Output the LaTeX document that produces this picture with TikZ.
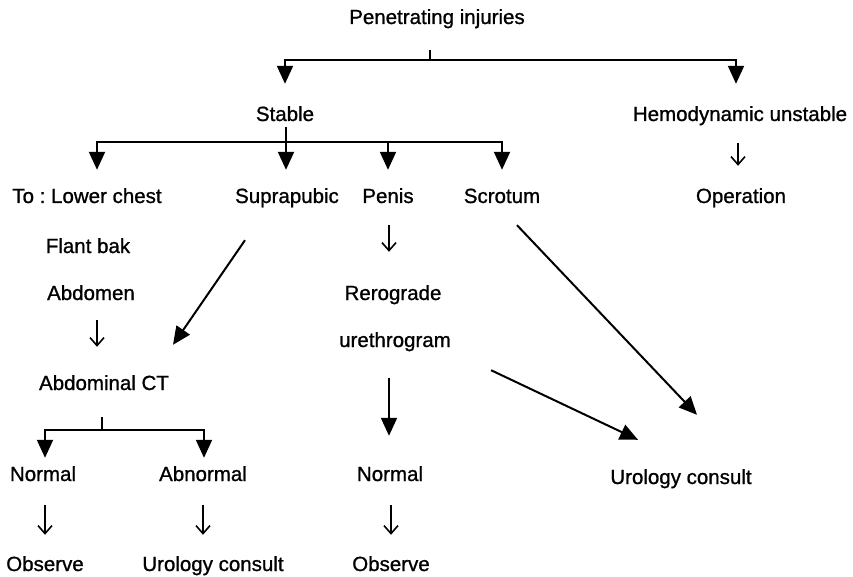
\documentclass[tikz,border=0pt]{standalone}
\usepackage{fontspec}
\setmainfont{Liberation Sans}
\newfontfamily\scanfont{Liberation Sans}[FakeBold=1]
\usetikzlibrary{arrows.meta}
\frenchspacing
\begin{document}
\begin{tikzpicture}[x=1pt,y=-1pt,
  lbl/.style={inner sep=0pt, anchor=base, text height=15pt, text depth=4pt, font=\scanfont\fontsize{20.5}{24}\selectfont},
  ln/.style={line width=2pt},
  arr/.style={line width=2pt, -{Triangle[width=16pt,length=18pt]}},
  tarr/.style={line width=1.6pt, -{Straight Barb[width=14pt,length=8pt,line width=1.6pt]}}]
\useasboundingbox (0,0) rectangle (853,577);

% text nodes
\node[lbl] (pen)    at (437,24)  {Penetrating injuries};
\node[lbl] (stable) at (285,121) {Stable};
\node[lbl] (hemo)   at (740,121) {Hemodynamic unstable};
\node[lbl] (tolc)   at (87,203)  {To :\ Lower chest};
\node[lbl] (supra)  at (287,203) {Suprapubic};
\node[lbl] (penis)  at (388,203) {Penis};
\node[lbl] (scrot)  at (502,203) {Scrotum};
\node[lbl] (op)     at (741,203) {Operation};
\node[lbl] (flant)  at (88,253)  {Flant bak};
\node[lbl] (abdm)   at (91,300)  {Abdomen};
\node[lbl] (rero)   at (393,300) {Rerograde};
\node[lbl] (ureth)  at (395,347) {urethrogram};
\node[lbl] (act)    at (104,390) {Abdominal CT};
\node[lbl] (nl)     at (43,481)  {Normal};
\node[lbl] (abn)    at (203,481) {Abnormal};
\node[lbl] (nm)     at (390,481) {Normal};
\node[lbl] (ucr)    at (681,484) {Urology consult};
\node[lbl] (obl)    at (45,571)  {Observe};
\node[lbl] (ucl)    at (213,571) {Urology consult};
\node[lbl] (obm)    at (391,571) {Observe};

% junctions
\coordinate (j1) at (430,60);
\coordinate (j2) at (286,142);
\coordinate (j3) at (102,430);

% top split
\draw[ln, shorten <=22pt] (pen.south -| j1) -- (j1);
\draw[arr, shorten >=22pt] (j1) -| (stable.north);
\draw[arr, shorten >=22pt] (j1) -| ([xshift=-4pt]hemo.north);
\draw[tarr, shorten <=18pt, shorten >=22pt] ([xshift=-3pt]op.north |- hemo.south) -- ([xshift=-3pt]op.north);

% stable split
\draw[ln, shorten <=2pt] (stable.south -| j2) -- (j2);
\draw[arr, shorten >=18pt] (j2) -- (j2 |- supra.north);
\draw[arr, shorten >=18pt] (j2) -| ([xshift=10pt]tolc.north);
\draw[arr, shorten >=18pt] (j2) -| (penis.north);
\draw[arr, shorten >=18pt] (j2) -| (scrot.north);

% left column
\draw[tarr, shorten <=16pt, shorten >=28pt] ([xshift=6pt]abdm.south) -- ([xshift=6pt]abdm.south |- act.north);
\draw[ln, shorten <=23pt] (act.south -| j3) -- (j3);
\draw[arr, shorten >=8pt] (j3) -| ([xshift=2pt]nl.north);
\draw[arr, shorten >=8pt] (j3) -| ([xshift=1pt]abn.north);
\draw[tarr, shorten <=20pt, shorten >=21pt] (obl.north |- nl.south) -- (obl.north);
\draw[tarr, shorten <=20pt, shorten >=21pt] (abn.south) -- (abn.south |- ucl.north);

% middle column
\draw[tarr, shorten <=18pt, shorten >=33pt] ([xshift=1pt]penis.south) -- ([xshift=1pt]penis.south |- rero.north);
\draw[arr, shorten <=27pt, shorten >=30pt] ([xshift=-1pt]nm.north |- ureth.south) -- ([xshift=-1pt]nm.north);
\draw[tarr, shorten <=20pt, shorten >=21pt] (obm.north |- nm.south) -- (obm.north);

% diagonals
\draw[arr] ([shift={(-42,33)}]supra.south) -- ([shift={(69,-30)}]act.north);
\draw[arr] ([shift={(40,19)}]ureth.south east) -- ([shift={(-43,-29)}]ucr.north);
\draw[arr] ([shift={(15,18)}]scrot.south) -- ([shift={(16,-54)}]ucr.north);
\end{tikzpicture}
\end{document}
